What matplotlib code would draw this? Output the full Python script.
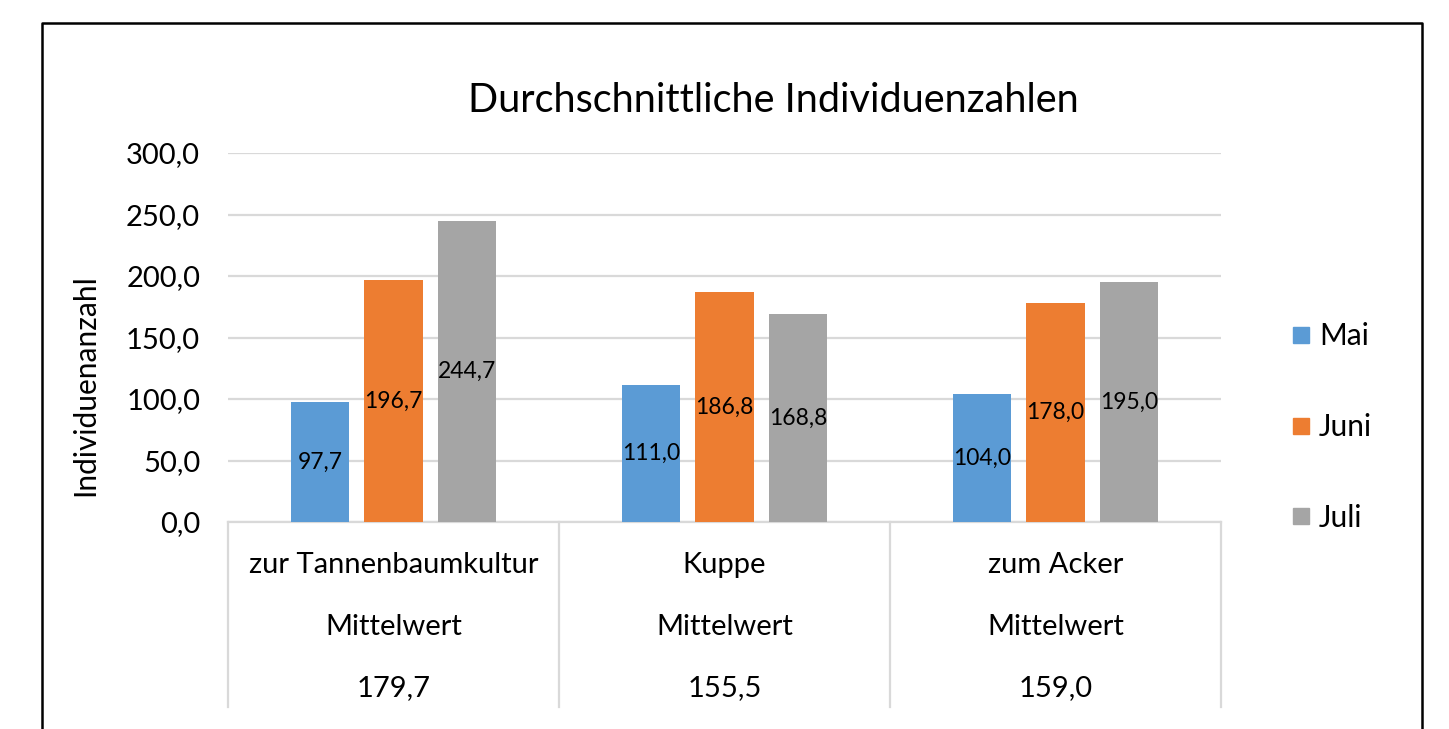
import matplotlib
matplotlib.use("Agg")
import matplotlib.pyplot as plt
from matplotlib.lines import Line2D
import numpy as np

plt.rcParams['font.family'] = ['Lato', 'DejaVu Sans']

categories = ["zur Tannenbaumkultur", "Kuppe", "zum Acker"]
series_names = ["Mai", "Juni", "Juli"]
mai = [97.7, 111.0, 104.0]
juni = [196.7, 186.8, 178.0]
juli = [244.7, 168.8, 195.0]
means = [179.7, 155.5, 159.0]
yticks = [0, 50, 100, 150, 200, 250, 300]
colors = ["#5B9BD5", "#ED7D31", "#A5A5A5"]

W, H = 1449, 729
fig = plt.figure(figsize=(W / 100, H / 100), dpi=100)
ax = fig.add_axes([228 / W, 1 - 522 / H, (1221 - 228) / W, (522 - 153) / H])

FS = 21

x = np.arange(len(categories))
offsets = [-0.222, 0.0, 0.222]
bw = 0.176
for vals, off, col, name in zip([mai, juni, juli], offsets, colors, series_names):
    bars = ax.bar(x + off, vals, width=bw, color=col, zorder=3, label=name)
    for b, v in zip(bars, vals):
        ax.text(b.get_x() + b.get_width() / 2, v / 2, f"{v:.1f}".replace(".", ","),
                ha="center", va="center", fontsize=16.5, color="black", zorder=4)

ax.set_xlim(-0.5, len(categories) - 0.5)
ax.set_ylim(0, 300)
ax.set_yticks(yticks)
ax.set_yticklabels([f"{t:.1f}".replace(".", ",") for t in yticks], fontsize=FS)
ax.tick_params(axis="y", length=0, pad=20)
ax.set_xticks([])
ax.grid(axis="y", color="#d9d9d9", linewidth=1.6, zorder=0)
for s in ["top", "right", "left"]:
    ax.spines[s].set_visible(False)
ax.spines["bottom"].set_color("#d9d9d9")
ax.spines["bottom"].set_linewidth(1.6)

# table below the axis
tb = -(707 - 522) / (522 - 153)
trans = ax.get_xaxis_transform()
for xv in np.arange(len(categories) + 1) - 0.5:
    ax.plot([xv, xv], [0, tb], transform=trans, color="#d9d9d9", lw=1.6, clip_on=False)
rows_y = [-(565 - 522) / 369, -(627 - 522) / 369, -(688 - 522) / 369]
for i, (cat, m) in enumerate(zip(categories, means)):
    ax.text(i, rows_y[0], cat, transform=trans, ha="center", va="center", fontsize=FS)
    ax.text(i, rows_y[1], "Mittelwert", transform=trans, ha="center", va="center", fontsize=FS)
    ax.text(i, rows_y[2], f"{m:.1f}".replace(".", ","), transform=trans, ha="center", va="center", fontsize=FS)

# title and y label
fig.text(773 / W, 1 - 100 / H, "Durchschnittliche Individuenzahlen", ha="center", va="center", fontsize=28.5)
fig.text(85 / W, 1 - 385 / H, "Individuenanzahl", ha="center", va="center", rotation=90, fontsize=21.5)

# legend
handles = [Line2D([], [], marker="s", linestyle="none", markersize=12, markerfacecolor=c,
                  markeredgecolor=c) for c in colors]
leg = fig.legend(handles, series_names, loc="center left", bbox_to_anchor=(1292 / W, 1 - 427 / H),
                 frameon=False, fontsize=21.5, labelspacing=2.1, handlelength=0.6,
                 handletextpad=0.3, borderpad=0, borderaxespad=0)

# outer frame
x0, x1, y1 = 42 / W, 1422 / W, 1 - 23 / H
fig.add_artist(Line2D([x0, x0, x1, x1], [-0.05, y1, y1, -0.05], transform=fig.transFigure,
                      color="black", lw=1.8))

fig.savefig("out.png", dpi=100)
